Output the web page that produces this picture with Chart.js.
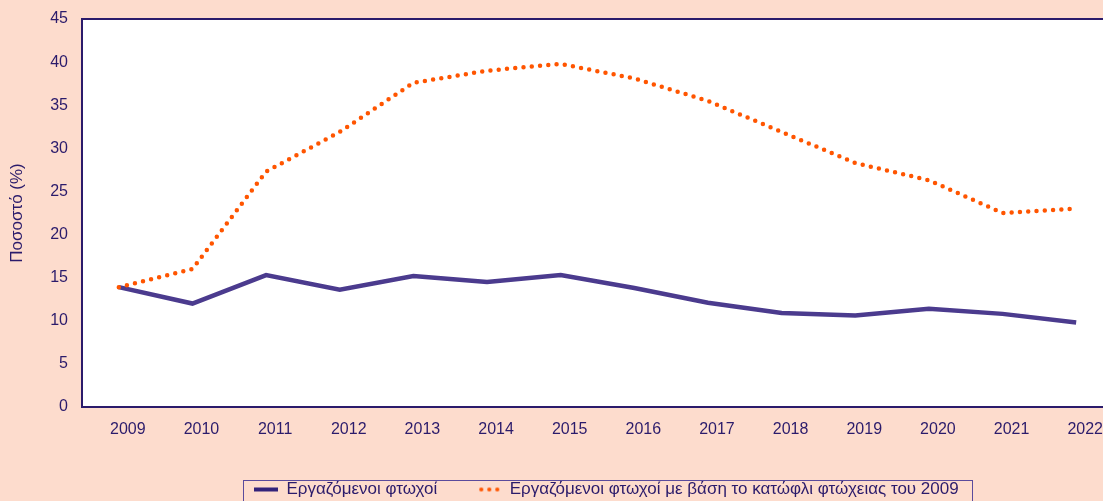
<!DOCTYPE html>
<html>
<head>
<meta charset="utf-8">
<script src="https://cdn.jsdelivr.net/npm/chart.js@4/dist/chart.umd.min.js"></script>
<style>
  html, body { margin: 0; padding: 0; overflow: hidden; background: #fddccd; }
  #wrap { width: 1211px; height: 508px; }
</style>
</head>
<body>
<div id="wrap"><canvas id="povertyChart"></canvas></div>
<script>
// έτη
const years = ["2009", "2010", "2011", "2012", "2013", "2014", "2015", "2016", "2017", "2018", "2019", "2020", "2021", "2022"];
// Εργαζόμενοι φτωχοί (%)
const workingPoor = [13.9, 12.0, 15.3, 13.6, 15.2, 14.5, 15.3, 13.8, 12.1, 10.9, 10.6, 11.4, 10.8, 9.8];
// με βάση το κατώφλι του 2009 (%)
const workingPoor2009 = [13.9, 16.0, 27.3, 31.9, 37.6, 39.0, 39.8, 38.1, 35.5, 31.9, 28.3, 26.3, 22.5, 23.0];
const yTicks = [0, 5, 10, 15, 20, 25, 30, 35, 40, 45];

const ink = "#2b1b6b";
const peach = "#fddccd";
const purple = "#4b3b8e";
const orange = "#ff5500";

Chart.defaults.font.family = "'Liberation Sans', Arial, sans-serif";
Chart.defaults.color = ink;

// μικρά δείγματα γραμμής για το υπόμνημα
function legendSample(dotted, color) {
  const c = document.createElement("canvas");
  c.width = 24;
  c.height = 6;
  const g = c.getContext("2d");
  g.fillStyle = color;
  if (dotted) {
    [4, 12, 20].forEach(x => {
      g.beginPath();
      g.arc(x, 3, 2.1, 0, Math.PI * 2);
      g.fill();
    });
  } else {
    g.fillRect(0, 1, 24, 4);
  }
  return c;
}

// φόντο, πλαίσιο και κουτί υπομνήματος
const framePlugin = {
  id: "frame",
  afterUpdate(chart) {
    // το υπόμνημα δεν είναι κεντραρισμένο στον καμβά
    const lg = chart.legend;
    const hb = lg.legendHitBoxes;
    if (!hb || !hb.length) return;
    const dx = 254 - hb[0].left;
    lg.left += dx;
    lg.right += dx;
    hb.forEach(h => { h.left += dx; });
  },
  beforeDraw(chart) {
    const { ctx, chartArea: a } = chart;
    ctx.save();
    ctx.fillStyle = peach;
    ctx.fillRect(0, 0, chart.width, chart.height);
    ctx.fillStyle = "#ffffff";
    ctx.fillRect(a.left, a.top, a.right - a.left, a.bottom - a.top);
    ctx.restore();
  },
  afterDraw(chart) {
    const { ctx, chartArea: a } = chart;
    ctx.save();
    ctx.strokeStyle = ink;
    ctx.lineWidth = 2;
    ctx.strokeRect(a.left, a.top, a.right - a.left, a.bottom - a.top);

    const hb = chart.legend.legendHitBoxes;
    if (hb && hb.length) {
      const first = hb[0];
      const last = hb[hb.length - 1];
      const left = Math.round(first.left - 11);
      const right = Math.round(last.left + last.width + 13);
      const top = Math.round(first.top + first.height / 2 - 9.5);
      ctx.lineWidth = 1;
      ctx.strokeStyle = "#5a4b9c";
      ctx.strokeRect(left + 0.5, top + 0.5, right - left, chart.height);
    }
    ctx.restore();
  }
};

new Chart(document.getElementById("povertyChart"), {
  type: "line",
  data: {
    labels: years,
    datasets: [
      {
        label: "Εργαζόμενοι φτωχοί",
        data: workingPoor,
        borderColor: purple,
        backgroundColor: purple,
        borderWidth: 4.5,
        pointRadius: 0,
        pointStyle: legendSample(false, "#33237a"),
        tension: 0,
        order: 1
      },
      {
        label: "Εργαζόμενοι φτωχοί με βάση το κατώφλι φτώχειας του 2009",
        data: workingPoor2009,
        borderColor: orange,
        backgroundColor: orange,
        borderWidth: 4.5,
        borderDash: [0, 8.3],
        borderCapStyle: "round",
        pointRadius: 0,
        pointStyle: legendSample(true, orange),
        tension: 0,
        order: 0
      }
    ]
  },
  options: {
    responsive: true,
    maintainAspectRatio: false,
    animation: false,
    layout: {
      padding: { left: 0, top: 19, right: 98, bottom: 0 }
    },
    plugins: {
      tooltip: { enabled: false },
      legend: {
        display: true,
        position: "bottom",
        labels: {
          usePointStyle: true,
          pointStyleWidth: 24,
          padding: 40,
          color: ink,
          font: { size: 17 },
          sort: (a, b) => a.datasetIndex - b.datasetIndex
        }
      }
    },
    scales: {
      x: {
        offset: true,
        grid: { display: false, drawTicks: false },
        border: { display: false },
        ticks: {
          padding: 13,
          labelOffset: 9,
          maxRotation: 0,
          autoSkip: false,
          color: ink,
          font: { size: 16 }
        },
        afterFit(scale) { scale.height = 34; }
      },
      y: {
        min: 0,
        max: 45,
        afterBuildTicks(scale) { scale.ticks = yTicks.map(v => ({ value: v })); },
        grid: { display: false, drawTicks: false },
        border: { display: false },
        ticks: {
          padding: 14,
          color: ink,
          font: { size: 16 }
        },
        title: {
          display: true,
          text: "Ποσοστό (%)",
          color: ink,
          font: { size: 17 },
          padding: { top: 7.5, bottom: 0 }
        },
        afterFit(scale) {
          scale.width = 82;
          scale.paddingTop = 0;
          scale.paddingBottom = 0;
        }
      }
    }
  },
  plugins: [framePlugin]
});
</script>
</body>
</html>
